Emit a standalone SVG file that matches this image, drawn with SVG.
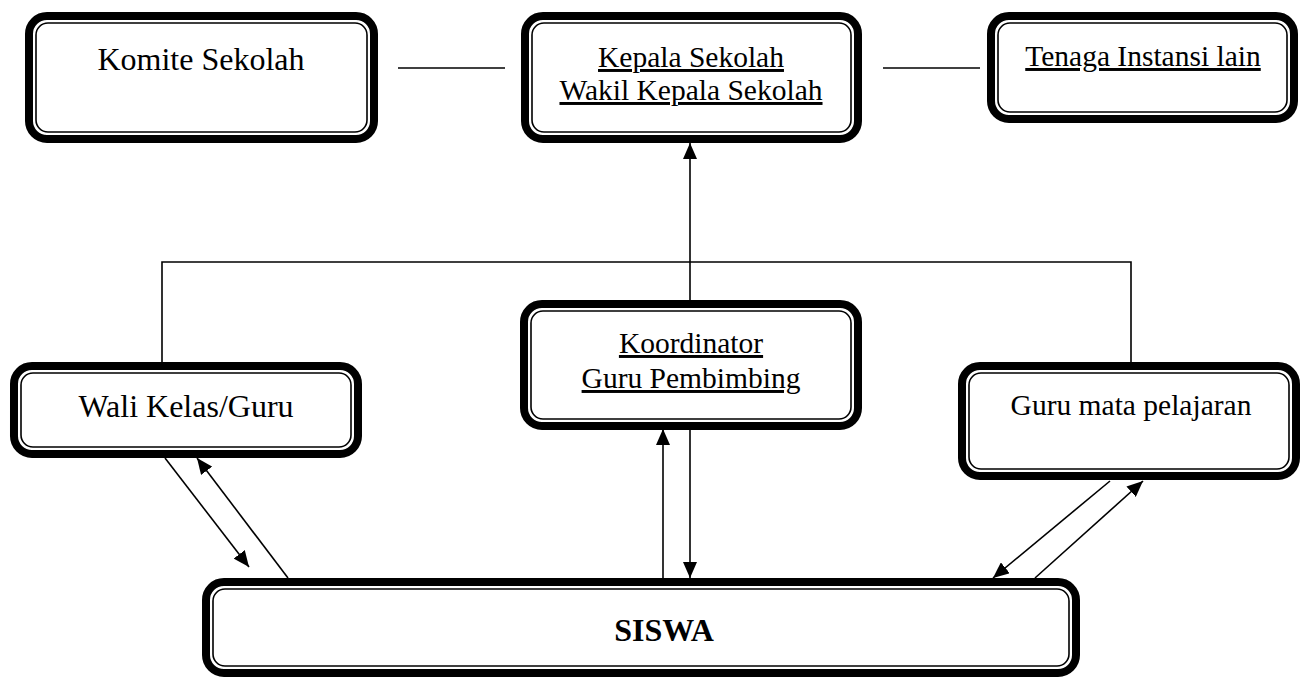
<svg xmlns="http://www.w3.org/2000/svg" width="1304" height="680" viewBox="0 0 1304 680">
<defs>
<style>
.outer{fill:#fff;stroke:#000;stroke-width:8}
.inner{fill:none;stroke:#000;stroke-width:1.6}
.t{font-family:"Liberation Serif","Times New Roman",serif;font-size:29.5px;fill:#000;text-anchor:middle}
.l{font-size:32px}
.u{text-decoration:underline}
.b{font-weight:bold;font-size:32px}
.c{fill:none;stroke:#000;stroke-width:1.6}
</style>
<marker id="ah" markerUnits="userSpaceOnUse" markerWidth="16" markerHeight="14" refX="16" refY="7" orient="auto">
<path d="M0,0 L16,7 L0,14 z" fill="#000"/>
</marker>
</defs>
<rect width="1304" height="680" fill="#fff"/>
<g id="connectors">
<line class="c" x1="398" y1="68" x2="505" y2="68"/>
<line class="c" x1="883" y1="68" x2="980" y2="68"/>
<polyline class="c" points="162,362 162,262 1131,262 1131,362"/>
<line class="c" x1="690" y1="300" x2="690" y2="143" marker-end="url(#ah)"/>
<line class="c" x1="165" y1="458" x2="249" y2="567" marker-end="url(#ah)"/>
<line class="c" x1="288" y1="578" x2="197" y2="458" marker-end="url(#ah)"/>
<line class="c" x1="663" y1="578" x2="663" y2="429" marker-end="url(#ah)"/>
<line class="c" x1="690" y1="430" x2="690" y2="578" marker-end="url(#ah)"/>
<line class="c" x1="1110" y1="481" x2="993" y2="578" marker-end="url(#ah)"/>
<line class="c" x1="1035" y1="578" x2="1143" y2="481" marker-end="url(#ah)"/>
</g>
<g id="komite">
<rect class="outer" x="29" y="16" width="345" height="123" rx="18"/>
<rect class="inner" x="36" y="23" width="331" height="109" rx="12"/>
<text class="t l" x="201" y="70">Komite Sekolah</text>
</g>
<g id="kepala">
<rect class="outer" x="525" y="16" width="333" height="123" rx="18"/>
<rect class="inner" x="532" y="23" width="319" height="109" rx="12"/>
<text class="t u" x="691" y="67">Kepala Sekolah</text>
<text class="t u" x="691" y="100">Wakil Kepala Sekolah</text>
</g>
<g id="tenaga">
<rect class="outer" x="991" y="16" width="303" height="103" rx="18"/>
<rect class="inner" x="998" y="23" width="289" height="89" rx="12"/>
<text class="t u" x="1143" y="66">Tenaga Instansi lain</text>
</g>
<g id="wali">
<rect class="outer" x="14" y="366" width="344" height="88" rx="18"/>
<rect class="inner" x="21" y="373" width="330" height="74" rx="12"/>
<text class="t l" x="186" y="417">Wali Kelas/Guru</text>
</g>
<g id="koordinator">
<rect class="outer" x="524" y="304" width="334" height="122" rx="18"/>
<rect class="inner" x="531" y="311" width="320" height="108" rx="12"/>
<text class="t u" x="691" y="353">Koordinator</text>
<text class="t u" x="691" y="388">Guru Pembimbing</text>
</g>
<g id="guru-mapel">
<rect class="outer" x="962" y="366" width="334" height="110" rx="18"/>
<rect class="inner" x="969" y="373" width="320" height="96" rx="12"/>
<text class="t" x="1131" y="415">Guru mata pelajaran</text>
</g>
<g id="siswa">
<rect class="outer" x="206" y="582" width="870" height="91" rx="18"/>
<rect class="inner" x="213" y="589" width="856" height="77" rx="12"/>
<text class="t b" x="664" y="641">SISWA</text>
</g>
</svg>
